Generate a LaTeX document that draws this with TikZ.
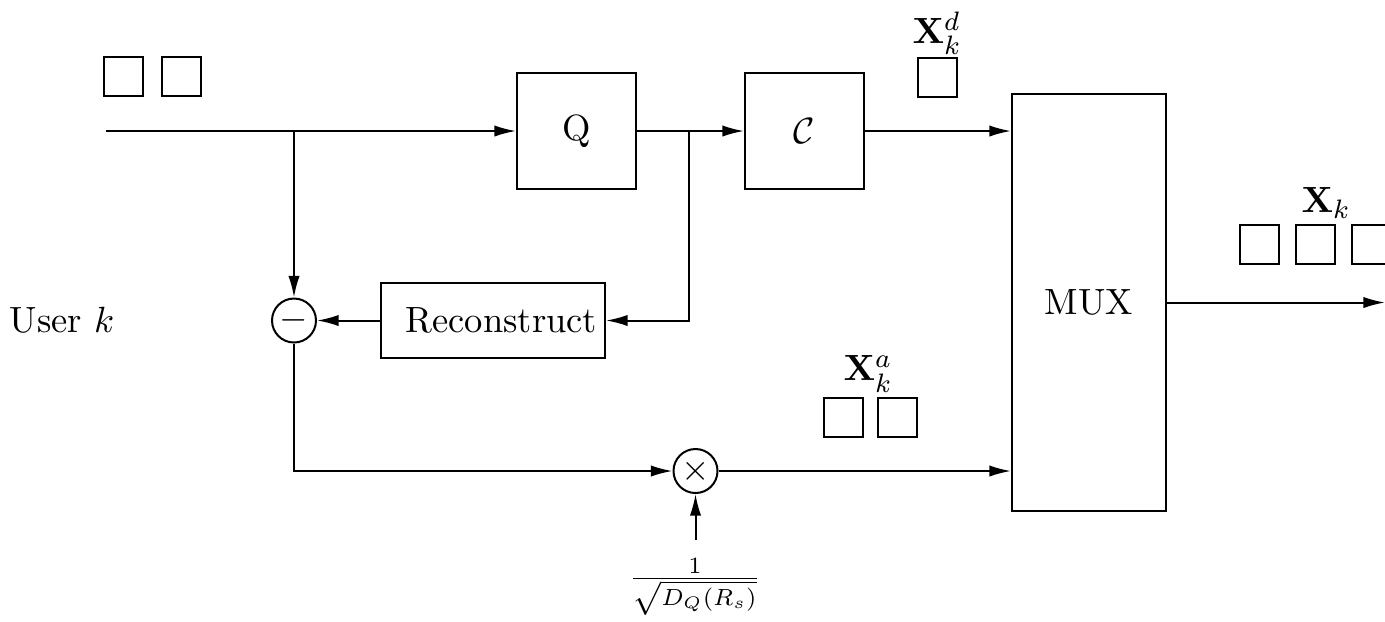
\documentclass[tikz,border=0pt,11pt]{standalone}
\usepackage{amsmath,amssymb}
\usetikzlibrary{arrows.meta, positioning, calc}
\begin{document}
\begin{tikzpicture}[
  x=0.3pt, y=-0.3pt, line width=0.6pt,
  box/.style={draw, inner sep=0pt, align=center},
  blk/.style={box, minimum width=35.7pt, minimum height=34.8pt},
  sum/.style={draw, circle, inner sep=0pt, minimum size=13.2pt},
  cell/.style={draw, anchor=north west, minimum size=11.7pt, inner sep=0pt},
  lbl/.style={inner sep=0.5pt},
  arr/.style={-{Latex[length=6.5pt,width=3.4pt]}}
]
\useasboundingbox (0,0) rectangle (1385,621);
\coordinate (in) at (106,131);
\coordinate (tap) at (294,131);
\coordinate (fb) at (689,131);
\coordinate (out) at (1385,302.5);
\coordinate (gin) at (695.5,540);
\node[blk] (q) at (576.5,131) {Q};
\node[blk] (cc) at (804.5,131) {$\mathcal{C}$};
\node[box, minimum width=46.2pt, minimum height=125.1pt] (mux) at (1089,302.5) {MUX};
\node[box, minimum width=67.2pt, minimum height=22.5pt] (rec) at (493,320.5) {\hspace*{5pt}Reconstruct};
\node[sum] (minus) at (294,320.5) {$-$};
\node[sum] (mult) at (695.5,471) {$\times$};
\node (user) at (62,320) {User $k$};
\node[font=\small] (gain) at (695,587) {$\frac{1}{\sqrt{D_Q(R_s)}}$};
\node[cell] (s1) at (103,56) {};
\node[cell] (s2) at (161,56) {};
\node[cell] (d1) at (917,57) {};
\node[lbl] (lbld) at (937,33) {$\mathbf{X}_k^d$};
\node[cell] (a1) at (823,397) {};
\node[cell] (a2) at (877,397) {};
\node[lbl] (lbla) at (868,374) {$\mathbf{X}_k^a$};
\node[cell] (o1) at (1239,224) {};
\node[cell] (o2) at (1295,224) {};
\node[cell] (o3) at (1351,224) {};
\node[lbl] (lblo) at (1326,203) {$\mathbf{X}_k$};
\draw[arr] (in) -- (q);
\draw[arr] (q) -- (cc);
\draw[arr] (cc.east) -- (mux.west |- cc.east);
\draw[arr] (tap) -- (minus);
\draw[arr] (fb) |- (rec.east);
\draw[arr] (rec) -- (minus);
\draw[arr] (minus.south) |- (mult.west);
\draw[arr] (mult.east) -- (mux.west |- mult.east);
\draw[arr] (gin) -- (mult);
\draw[arr] (mux) -- (out);
\end{tikzpicture}
\end{document}
